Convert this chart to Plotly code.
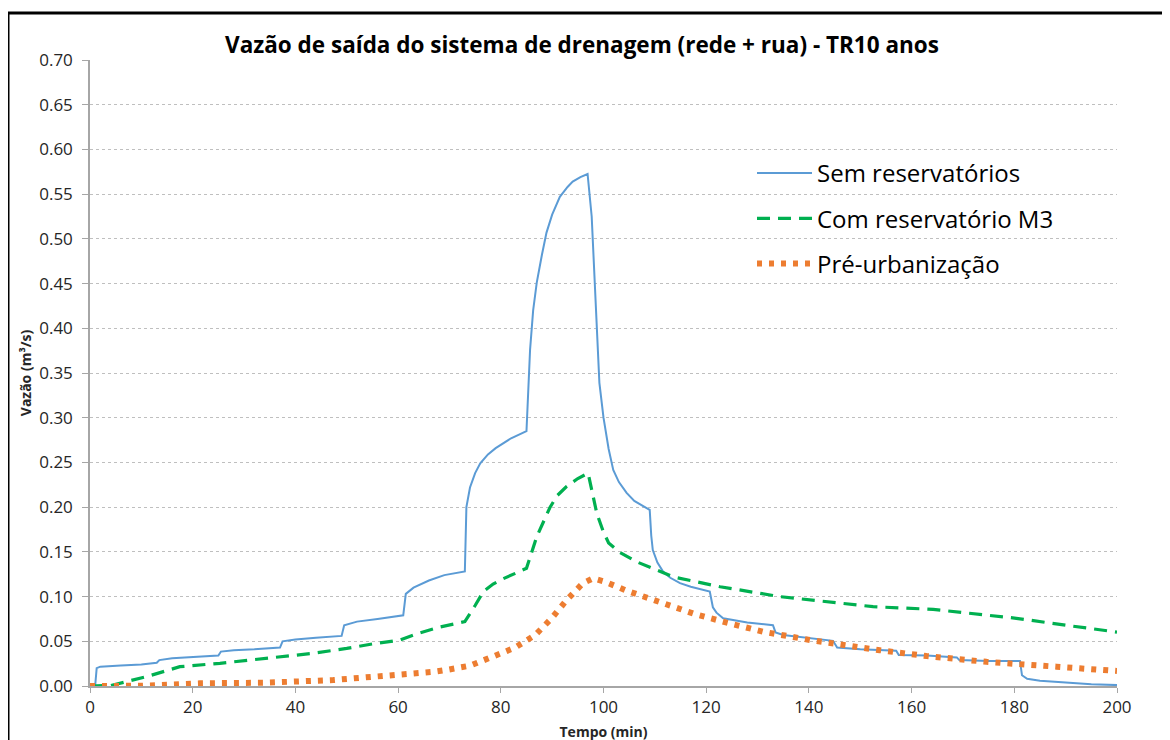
import plotly.graph_objects as go

# Sem reservatórios (blue)
t_sem = [0, 1.0, 1.3, 2, 6, 10, 13.0, 13.5, 16, 20, 25.0, 25.5, 28, 32, 37.0, 37.5, 40, 44, 49.0, 49.5, 52, 56, 61.0, 61.5,
         63, 66, 69, 73.0, 73.3, 74, 75, 76, 77.5, 79, 80, 82, 85.0, 85.4, 85.7, 86.3, 87, 88, 88.9, 90, 91.5, 93, 94, 95.5,
         96.9, 97.7, 98.3, 98.7, 99.2, 100, 101, 101.9, 103, 104.5, 106, 108.4, 109.0, 109.3, 109.6, 110.5, 111.6, 113,
         114.9, 117, 120.7, 121.3, 122, 123.3, 128, 133.0, 133.5, 135, 138, 144.7, 145.5, 150, 157.0, 157.5, 163, 168.8,
         169.3, 175, 181.1, 181.5, 182.5, 185, 190, 195, 200]
v_sem = [0, 0, 0.020, 0.0216, 0.023, 0.024, 0.026, 0.029, 0.031, 0.032, 0.034, 0.0385, 0.040, 0.041, 0.043, 0.050, 0.052,
         0.054, 0.056, 0.068, 0.072, 0.075, 0.079, 0.103, 0.110, 0.118, 0.124, 0.128, 0.200, 0.222, 0.238, 0.249, 0.259,
         0.266, 0.270, 0.277, 0.285, 0.330, 0.376, 0.420, 0.451, 0.482, 0.507, 0.527, 0.547, 0.558, 0.564, 0.569, 0.5725,
         0.525, 0.451, 0.398, 0.339, 0.30, 0.265, 0.2415, 0.228, 0.216, 0.207, 0.199, 0.197, 0.168, 0.152, 0.138, 0.128,
         0.121, 0.115, 0.111, 0.1055, 0.088, 0.082, 0.0757, 0.071, 0.068, 0.060, 0.057, 0.055, 0.0505, 0.043, 0.041,
         0.0395, 0.0347, 0.034, 0.032, 0.029, 0.028, 0.028, 0.012, 0.008, 0.006, 0.004, 0.002, 0.001]

# Com reservatório M3 (green dashed)
t_m3 = [0, 2, 4, 11, 17.5, 25.3, 34.4, 43.5, 50, 55, 60.4, 64, 68.2, 73, 75, 76.6, 78.5, 80.5, 85, 87, 89.6, 91, 92.8, 95,
        97, 98.7, 100, 101, 103, 106.4, 113.6, 122.7, 134.4, 144.7, 152.5, 164.2, 172, 180.4, 190, 199.3, 200]
v_m3 = [0, 0, 0.0005, 0.0104, 0.0216, 0.0254, 0.031, 0.0366, 0.042, 0.047, 0.0514, 0.059, 0.066, 0.072, 0.090, 0.1055,
        0.114, 0.12, 0.1316, 0.167, 0.20, 0.213, 0.223, 0.232, 0.238, 0.193, 0.172, 0.160, 0.150, 0.139, 0.122, 0.111,
        0.0999, 0.094, 0.0887, 0.0857, 0.081, 0.0757, 0.068, 0.0607, 0.0603]

# Pré-urbanização (orange dotted)
t_pre = [0, 10, 21.4, 34.4, 47.4, 58, 60.7, 67.2, 69.5, 74, 78.5, 82.8, 86.7, 89.9, 92.8, 96, 98, 100.3, 104.5, 111,
         117.5, 124, 131.1, 140.2, 149.3, 153.8, 162.9, 174.6, 188.2, 200]
v_pre = [0, 0.0002, 0.003, 0.0037, 0.0067, 0.011, 0.0123, 0.016, 0.018, 0.0227, 0.033, 0.043, 0.057, 0.0757, 0.096,
         0.115, 0.1205, 0.1166, 0.1066, 0.094, 0.081, 0.0708, 0.0607, 0.0514, 0.043, 0.040, 0.0335, 0.027, 0.0216, 0.0168]

y_ticks = [round(0.05 * i, 2) for i in range(15)]
x_ticks = list(range(0, 201, 20))

FONT = "Open Sans"

fig = go.Figure()
fig.add_trace(go.Scatter(x=t_sem, y=v_sem, mode="lines", name="Sem reservatórios", legendgroup="a",
                         line=dict(color="#5B9BD5", width=2)))
fig.add_trace(go.Scatter(x=t_m3, y=v_m3, mode="lines", name="Com reservatório M3", legendgroup="b",
                         line=dict(color="#00B050", width=3.2, dash="13px,8px")))
fig.add_trace(go.Scatter(x=t_pre, y=v_pre, mode="lines", name="Pré-urbanização", legendgroup="c",
                         line=dict(color="#ED7D31", width=6, dash="5px,7px")))

# the page body adds an 8px offset; figure coordinates = screen - 8
OFF = 8
W, H = 1170, 740
L, R, T, B = 90 - OFF, W - (1117 - OFF), 60 - OFF, H - (686 - OFF)
pw, ph = W - L - R, H - T - B


def px(x):
    return (x - OFF - L) / pw


def py(y):
    return (H - B - (y - OFF)) / ph


fig.update_layout(
    width=W, height=H,
    margin=dict(l=L, r=R, t=T, b=B, autoexpand=False),
    paper_bgcolor="white", plot_bgcolor="white",
    font=dict(family=FONT, color="#262626"),
    title=dict(text="<b>Vazão de saída do sistema de drenagem (rede + rua) - TR10 anos</b>",
               x=px(582), xref="paper", xanchor="center", y=1 - (45 - OFF) / H, yanchor="middle",
               font=dict(size=22.5, family=FONT, color="#000000")),
    showlegend=True,
    legend=dict(x=px(752), y=py(151), xanchor="left", yanchor="top",
                bgcolor="rgba(0,0,0,0)", font=dict(size=24, family=FONT, color="#000000"),
                itemwidth=55, tracegroupgap=11),
    xaxis=dict(range=[0, 200], tickvals=x_ticks, ticktext=[str(v) for v in x_ticks], automargin=False,
               showgrid=False, zeroline=False, showline=True, linecolor="#A6A6A6", linewidth=1.5,
               ticks="outside", ticklen=5, tickcolor="#A6A6A6", tickfont=dict(size=17, color="#262626"),
               title=dict(text="<b>Tempo (min)</b>", font=dict(size=14, color="#262626"), standoff=10)),
    yaxis=dict(range=[0, 0.70], tickvals=y_ticks, ticktext=[f"{v:.2f}" for v in y_ticks], automargin=False,
               showgrid=True, gridcolor="#BFBFBF", griddash="dot", gridwidth=1,
               zeroline=False, showline=True, linecolor="#A6A6A6", linewidth=1.5,
               ticks="outside", ticklen=6, tickcolor="#A6A6A6", tickfont=dict(size=17, color="#262626"),
               ticklabelstandoff=6,
               title=dict(text="<b>Vazão (m³/s)</b>", font=dict(size=14, color="#262626"), standoff=4)),
)

# outer frame
fig.add_shape(type="rect", xref="paper", yref="paper",
              x0=px(8), y0=py(H + 30), x1=px(W + 30), y1=py(13),
              line=dict(color="black", width=3), fillcolor="rgba(0,0,0,0)", layer="above")

fig.write_html("out.html")
